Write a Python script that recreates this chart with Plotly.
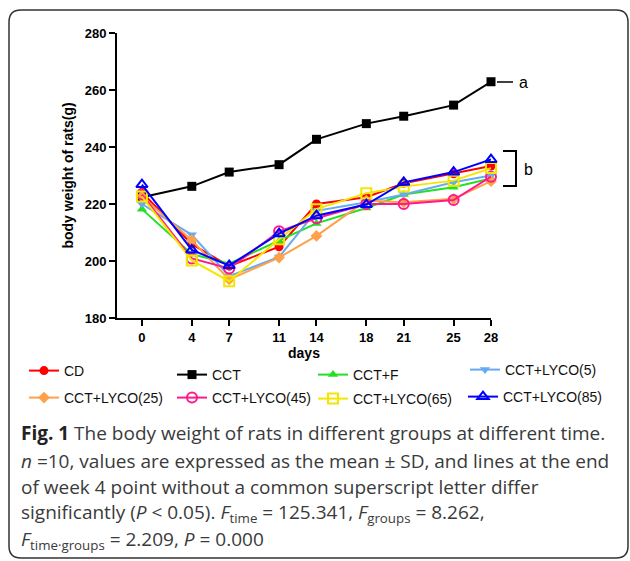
import plotly.graph_objects as go

days = [0, 4, 7, 11, 14, 18, 21, 25, 28]
groups = ["CD", "CCT", "CCT+F", "CCT+LYCO(5)", "CCT+LYCO(25)",
          "CCT+LYCO(45)", "CCT+LYCO(65)", "CCT+LYCO(85)"]
cd     = [224.1, 205.9, 198.2, 205.0, 220.0, 222.4, 227.3, 230.6, 233.3]
cct    = [222.4, 226.2, 231.2, 233.8, 242.7, 248.2, 250.8, 254.7, 262.9]
cct_f  = [218.2, 202.4, 199.1, 207.0, 213.2, 218.6, 223.3, 225.9, 229.0]
lyco5  = [220.0, 209.2, 194.7, 201.4, 217.6, 220.6, 223.3, 227.6, 230.0]
lyco25 = [222.6, 207.3, 193.5, 201.2, 208.8, 221.2, 220.6, 221.8, 228.0]
lyco45 = [223.3, 200.9, 197.4, 210.4, 215.0, 220.0, 220.0, 221.4, 229.6]
lyco65 = [222.6, 200.2, 192.9, 207.6, 218.2, 223.8, 226.1, 228.2, 232.6]
lyco85 = [226.8, 203.9, 198.4, 209.6, 215.9, 219.8, 227.6, 231.2, 235.6]
series = [cd, cct, cct_f, lyco5, lyco25, lyco45, lyco65, lyco85]
x_ticks = [0, 4, 7, 11, 14, 18, 21, 25, 28]
y_ticks = [180, 200, 220, 240, 260, 280]

colors = ["#ff0000", "#000000", "#22e022", "#66aaf2", "#ffa04a",
          "#ff1a8c", "#f5e600", "#0000ff"]
symbols = ["circle", "square", "triangle-up", "triangle-down", "diamond",
           "circle-open", "square-open", "triangle-up-open"]

W, H = 630, 561
L, R, T, B = 117, 491, 33, 318   # plot area in pixels


def px(x):
    return (x - L) / (R - L)


def py(y):
    return (B - y) / (B - T)


# legend placement: (text start x px, centre y px)
leg_place = [(64, 371), (212, 375), (353, 375), (505, 370),
             (64, 398), (212, 398), (353, 399), (503, 397)]

fig = go.Figure()
for i, (name, vals) in enumerate(zip(groups, series)):
    lg = "legend" if i == 0 else f"legend{i+1}"
    op = symbols[i].endswith("open")
    fig.add_trace(go.Scatter(
        x=days, y=vals, name=name, mode="lines+markers",
        line=dict(color=colors[i], width=2),
        marker=dict(symbol=symbols[i], size=9 if not op else 10,
                    color=colors[i],
                    line=dict(color=colors[i], width=2 if op else 0)),
        legend=lg, cliponaxis=False,
    ))

legends = {}
for i, (tx, ty) in enumerate(leg_place):
    key = "legend" if i == 0 else f"legend{i+1}"
    legends[key] = dict(
        x=px(tx - 40), y=py(ty), xanchor="left", yanchor="middle",
        bgcolor="rgba(0,0,0,0)", borderwidth=0,
        font=dict(family="Arial, Liberation Sans", size=14, color="#111"),
        itemwidth=30,
    )

# border (rounded rectangle) in paper coordinates
bx0, bx1 = px(9), px(628)
by0, by1 = py(558), py(10)
rx, ry = 12 / (R - L), 12 / (B - T)
path = (f"M {bx0+rx},{by1} L {bx1-rx},{by1} Q {bx1},{by1} {bx1},{by1-ry} "
        f"L {bx1},{by0+ry} Q {bx1},{by0} {bx1-rx},{by0} "
        f"L {bx0+rx},{by0} Q {bx0},{by0} {bx0},{by0+ry} "
        f"L {bx0},{by1-ry} Q {bx0},{by1} {bx0+rx},{by1} Z")

shapes = [
    dict(type="path", xref="paper", yref="paper", path=path,
         line=dict(color="#333", width=1.5)),
    # line to "a"
    dict(type="line", xref="paper", yref="paper", x0=px(497), x1=px(513),
         y0=py(82), y1=py(82), line=dict(color="black", width=1.5)),
    # bracket "b"
    dict(type="path", xref="paper", yref="paper",
         path=(f"M {px(503)},{py(151)} L {px(516)},{py(151)} "
               f"L {px(516)},{py(186)} L {px(503)},{py(186)}"),
         line=dict(color="black", width=2)),
]

cap_font = dict(family="Open Sans, Noto Sans", size=19, color="#3a3a3a")
caption = [
    "<b><span style='color:#222'>Fig. 1</span></b> The body weight of rats in different groups at different time.",
    "<i>n</i> =10, values are expressed as the mean ± SD, and lines at the end",
    "of week 4 point without a common superscript letter differ",
    "significantly (<i>P</i> &lt; 0.05). <i>F</i><sub>time</sub> = 125.341, <i>F</i><sub>groups</sub> = 8.262,",
    "<i>F</i><sub>time·groups</sub> = 2.209, <i>P</i> = 0.000",
]
cap_y = [433, 461, 487, 513, 540]

annotations = [
    dict(text="a", xref="paper", yref="paper", x=px(517), y=py(82),
         xanchor="left", yanchor="middle", showarrow=False,
         font=dict(family="Arial, Liberation Sans", size=16, color="black")),
    dict(text="b", xref="paper", yref="paper", x=px(522), y=py(169),
         xanchor="left", yanchor="middle", showarrow=False,
         font=dict(family="Arial, Liberation Sans", size=16, color="black")),
]
for txt, yy in zip(caption, cap_y):
    annotations.append(dict(text=txt, xref="paper", yref="paper", x=px(19),
                            y=py(yy), xanchor="left", yanchor="middle",
                            showarrow=False, align="left", font=cap_font))

axis_font = dict(family="Arial, Liberation Sans", size=13, color="black")
title_font = dict(family="Arial, Liberation Sans", size=14, color="black")
fig.update_layout(
    width=W, height=H,
    margin=dict(l=L, r=W - R, t=T, b=H - B, pad=0),
    paper_bgcolor="white", plot_bgcolor="white",
    showlegend=True,
    shapes=shapes, annotations=annotations,
    xaxis=dict(range=[-2, 28], tickmode="array", tickvals=x_ticks,
               ticktext=[f"<b>{t}</b>" for t in x_ticks],
               showgrid=False, zeroline=False, showline=True,
               linecolor="black", linewidth=2, ticks="outside", ticklen=6,
               tickwidth=1.5, tickcolor="black", tickfont=axis_font,
               title=dict(text="<b>days</b>", font=title_font, standoff=4)),
    yaxis=dict(range=[180, 280], tickmode="array", tickvals=y_ticks,
               ticktext=[f"<b>{t}</b>" for t in y_ticks],
               showgrid=False, zeroline=False, showline=True,
               linecolor="black", linewidth=2, ticks="outside", ticklen=6,
               tickwidth=1.5, tickcolor="black", tickfont=axis_font,
               title=dict(text="<b>body weight of rats(g)</b>", font=title_font,
                          standoff=8)),
    **legends,
)

fig.write_html("out.html", config={"displayModeBar": False},
               post_script="document.body.style.margin='0';")
